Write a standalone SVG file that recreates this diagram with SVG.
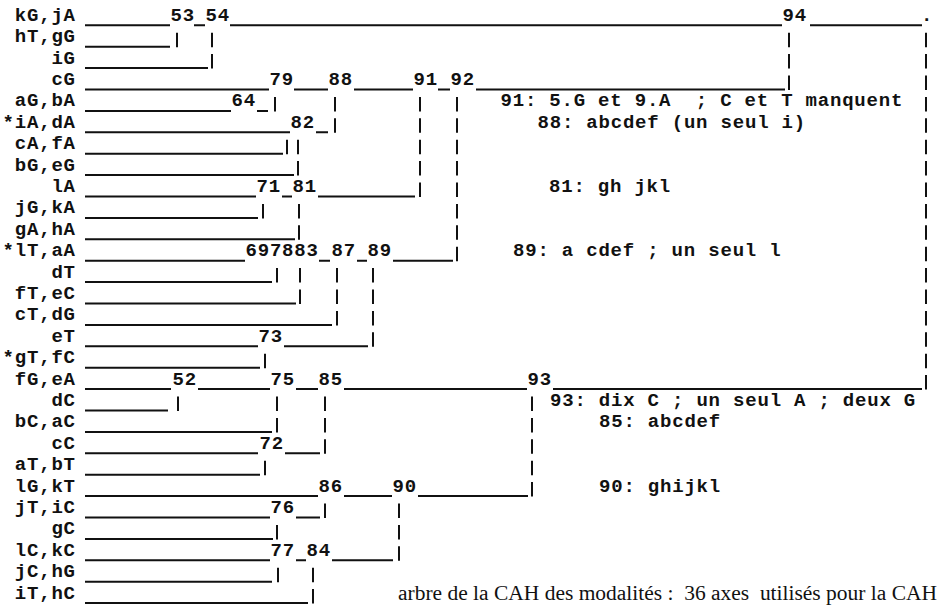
<svg xmlns="http://www.w3.org/2000/svg" width="939" height="607" viewBox="0 0 939 607">
<style>
.t{font-family:"Liberation Mono","Courier New",monospace;font-size:19px;font-weight:bold;letter-spacing:0.8px;fill:#111;white-space:pre}
.lb{text-anchor:end}
.h{stroke:#111;stroke-width:2;fill:none}
.v{stroke:#111;stroke-width:2;stroke-dasharray:14.5 6.9;fill:none}
.cap{font-family:"Liberation Serif","Times New Roman",serif;font-size:20px;fill:#111;white-space:pre}
</style>
<rect width="939" height="607" fill="#fff"/>
<g id="rows">
<g id="r0"><text class="t lb" x="75.8" y="20.8">kG,jA</text><path class="h" d="M85 25.3H170M194 25.3H205M230 25.3H782M810 25.3H922"/><text class="t" x="170.5" y="20.8">53</text><text class="t" x="205.5" y="20.8">54</text><text class="t" x="782.5" y="20.8">94</text><text class="t" x="921" y="20.8">.</text></g>
<g id="r1"><text class="t lb" x="75.8" y="42.2">hT,gG</text><path class="h" d="M85 46.7H170"/></g>
<g id="r2"><text class="t lb" x="75.8" y="63.6">iG</text><path class="h" d="M85 68.1H208"/></g>
<g id="r3"><text class="t lb" x="75.8" y="85">cG</text><path class="h" d="M85 89.5H269M294 89.5H328M354 89.5H413M438 89.5H450M476 89.5H785"/><text class="t" x="269.5" y="85">79</text><text class="t" x="328.5" y="85">88</text><text class="t" x="413.5" y="85">91</text><text class="t" x="450.5" y="85">92</text></g>
<g id="r4"><text class="t lb" x="75.8" y="106.4">aG,bA</text><path class="h" d="M85 110.9H231M257 110.9H268"/><text class="t" x="231.5" y="106.4">64</text></g>
<g id="r5"><text class="t lb" x="75.8" y="127.8">*iA,dA</text><path class="h" d="M85 132.3H290M316 132.3H328"/><text class="t" x="290.5" y="127.8">82</text></g>
<g id="r6"><text class="t lb" x="75.8" y="149.2">cA,fA</text><path class="h" d="M85 153.7H283"/></g>
<g id="r7"><text class="t lb" x="75.8" y="170.6">bG,eG</text><path class="h" d="M85 175.1H294"/></g>
<g id="r8"><text class="t lb" x="75.8" y="192">lA</text><path class="h" d="M85 196.5H256M282 196.5H292M318 196.5H415"/><text class="t" x="256.5" y="192">71</text><text class="t" x="292.5" y="192">81</text></g>
<g id="r9"><text class="t lb" x="75.8" y="213.4">jG,kA</text><path class="h" d="M85 217.9H258"/></g>
<g id="r10"><text class="t lb" x="75.8" y="234.8">gA,hA</text><path class="h" d="M85 239.3H295"/></g>
<g id="r11"><text class="t lb" x="75.8" y="256.2">*lT,aA</text><path class="h" d="M85 260.7H245M319 260.7H330M357 260.7H367M393 260.7H453"/><text class="t" x="245.5" y="256.2">697883</text><text class="t" x="331.5" y="256.2">87</text><text class="t" x="367.5" y="256.2">89</text></g>
<g id="r12"><text class="t lb" x="75.8" y="277.6">dT</text><path class="h" d="M85 282.1H272"/></g>
<g id="r13"><text class="t lb" x="75.8" y="299">fT,eC</text><path class="h" d="M85 303.5H296"/></g>
<g id="r14"><text class="t lb" x="75.8" y="320.4">cT,dG</text><path class="h" d="M85 324.9H332"/></g>
<g id="r15"><text class="t lb" x="75.8" y="341.8">eT</text><path class="h" d="M85 346.3H258M284 346.3H368"/><text class="t" x="258.5" y="341.8">73</text></g>
<g id="r16"><text class="t lb" x="75.8" y="363.2">*gT,fC</text><path class="h" d="M85 367.7H260"/></g>
<g id="r17"><text class="t lb" x="75.8" y="384.6">fG,eA</text><path class="h" d="M85 389.1H171M198 389.1H270M296 389.1H318M344 389.1H527M553 389.1H922"/><text class="t" x="172.5" y="384.6">52</text><text class="t" x="270.5" y="384.6">75</text><text class="t" x="318.5" y="384.6">85</text><text class="t" x="527.5" y="384.6">93</text></g>
<g id="r18"><text class="t lb" x="75.8" y="406">dC</text><path class="h" d="M85 410.5H168"/></g>
<g id="r19"><text class="t lb" x="75.8" y="427.4">bC,aC</text><path class="h" d="M85 431.9H272"/></g>
<g id="r20"><text class="t lb" x="75.8" y="448.8">cC</text><path class="h" d="M85 453.3H258M285 453.3H320"/><text class="t" x="259.5" y="448.8">72</text></g>
<g id="r21"><text class="t lb" x="75.8" y="470.2">aT,bT</text><path class="h" d="M85 474.7H260"/></g>
<g id="r22"><text class="t lb" x="75.8" y="491.6">lG,kT</text><path class="h" d="M85 496.1H318M344 496.1H392M418 496.1H528"/><text class="t" x="318.5" y="491.6">86</text><text class="t" x="392.5" y="491.6">90</text></g>
<g id="r23"><text class="t lb" x="75.8" y="513">jT,iC</text><path class="h" d="M85 517.5H270M296 517.5H320"/><text class="t" x="270.5" y="513">76</text></g>
<g id="r24"><text class="t lb" x="75.8" y="534.4">gC</text><path class="h" d="M85 538.9H273"/></g>
<g id="r25"><text class="t lb" x="75.8" y="555.8">lC,kC</text><path class="h" d="M85 560.3H270M296 560.3H306M332 560.3H393"/><text class="t" x="270.5" y="555.8">77</text><text class="t" x="306.5" y="555.8">84</text></g>
<g id="r26"><text class="t lb" x="75.8" y="577.2">jC,hG</text><path class="h" d="M85 581.7H272"/></g>
<g id="r27"><text class="t lb" x="75.8" y="598.6">iT,hC</text><path class="h" d="M85 603.1H308"/></g>
</g>
<g id="connectors">
<path class="v" d="M177 32.7V47.2"/>
<path class="v" d="M212 32.7V68.6"/>
<path class="v" d="M789 32.7V90"/>
<path class="v" d="M926 32.7V389.6"/>
<path class="v" d="M275 96.9V111.4"/>
<path class="v" d="M335 96.9V132.8"/>
<path class="v" d="M420 96.9V197"/>
<path class="v" d="M457 96.9V261.2"/>
<path class="v" d="M287 139.7V154.2"/>
<path class="v" d="M298 139.7V175.6"/>
<path class="v" d="M263 203.9V218.4"/>
<path class="v" d="M299 203.9V239.8"/>
<path class="v" d="M277 268.1V282.6"/>
<path class="v" d="M300 268.1V304"/>
<path class="v" d="M337 268.1V325.4"/>
<path class="v" d="M373 268.1V346.8"/>
<path class="v" d="M265 353.7V368.2"/>
<path class="v" d="M178 396.5V411"/>
<path class="v" d="M277 396.5V432.4"/>
<path class="v" d="M325 396.5V453.8"/>
<path class="v" d="M532 396.5V496.6"/>
<path class="v" d="M265 460.7V475.2"/>
<path class="v" d="M325 503.5V518"/>
<path class="v" d="M399 503.5V560.8"/>
<path class="v" d="M277 524.9V539.4"/>
<path class="v" d="M278 567.7V582.2"/>
<path class="v" d="M313 567.7V603.6"/>
</g>
<g id="notes">
<text class="t" x="500.5" y="106.4">91: 5.G et 9.A  ; C et T manquent</text>
<text class="t" x="537.5" y="127.8">88: abcdef (un seul i)</text>
<text class="t" x="549" y="192">81: gh jkl</text>
<text class="t" x="513" y="256.2">89: a cdef ; un seul l</text>
<text class="t" x="550" y="406">93: dix C ; un seul A ; deux G</text>
<text class="t" x="599" y="427.4">85: abcdef</text>
<text class="t" x="599" y="491.6">90: ghijkl</text>
<text class="cap" x="398" y="600" textLength="539" lengthAdjust="spacingAndGlyphs">arbre de la CAH des modalités :  36 axes  utilisés pour la CAH</text>
</g>
</svg>
